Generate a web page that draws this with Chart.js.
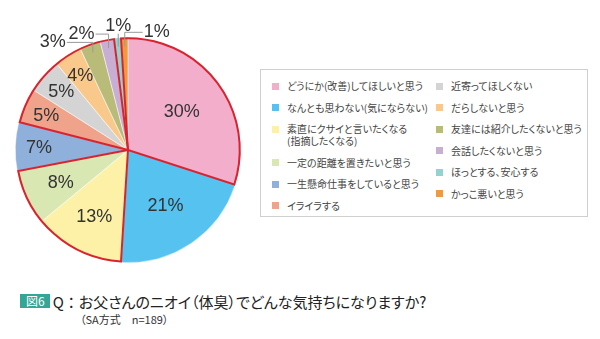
<!DOCTYPE html>
<html lang="ja">
<head>
<meta charset="utf-8">
<script src="https://cdn.jsdelivr.net/npm/chart.js@4"></script>
<style>
  html, body { margin: 0; padding: 0; background: #fff; }
  body { width: 600px; height: 339px; position: relative; overflow: hidden;
         font-family: "Noto Sans CJK JP", "Noto Sans", sans-serif; }
  #pie { position: absolute; left: 0; top: 0; }
  #legend { position: absolute; left: 260px; top: 69px; width: 326px; height: 146px;
            border: 1px solid #cfcfcf; }
  .col { position: absolute; top: 10px; display: flex; flex-direction: column; gap: 9.6px; }
  .item { display: flex; align-items: flex-start; font-size: 10px; line-height: 12px; color: #444;
          font-feature-settings: "palt"; white-space: pre; }
  .sw { width: 7px; height: 7px; margin-top: 2.5px; margin-right: 8px; flex: none; }
  #title { position: absolute; left: 20px; top: 291px; font-size: 15px; color: #222;
           font-feature-settings: "palt"; white-space: nowrap; }
  #title .badge { display: inline-block; background: #35a596; color: #fff; font-size: 12px;
                  line-height: 14px; padding: 0 5px 0 6px; margin-right: 3px; vertical-align: 2px; }
  #title .q { font-feature-settings: normal; }
  #sub { position: absolute; left: 80px; top: 311px; font-size: 11px; color: #333;
         font-feature-settings: "palt"; white-space: pre; }
</style>
</head>
<body>
<canvas id="pie" width="260" height="290"></canvas>
<div id="legend"></div>
<div id="title"><span class="badge">図6</span><span class="q">Q：</span>お父さんのニオイ（体臭）でどんな気持ちになりますか?</div>
<div id="sub">（SA方式　n=189）</div>
<script>
// 回答の選択肢と割合（%）
const categories = [
    "どうにか(改善)してほしいと思う",
    "なんとも思わない(気にならない)",
    "素直にクサイと言いたくなる\n(指摘したくなる)",
    "一定の距離を置きたいと思う",
    "一生懸命仕事をしていると思う",
    "イライラする",
    "近寄ってほしくない",
    "だらしないと思う",
    "友達には紹介したくないと思う",
    "会話したくないと思う",
    "ほっとする、安心する",
    "かっこ悪いと思う"
];
const percents = [30, 21, 13, 8, 7, 5, 5, 4, 3, 2, 1, 1];
const colors = [
    "#f3aecb", "#56c2ef", "#fdf1a8", "#d9e8b3", "#8fb0da", "#eea38a",
    "#d4d4d4", "#f9c98b", "#b9bc79", "#c9aed3", "#8fd4d0", "#f0993f"
];

// 赤枠で囲むグループ（スライスの番号）
const redGroups = [[11, 0], [2, 3], [5, 6, 7, 8, 9]];

// 小さいスライスの外側ラベル（引き出し線の折れ位置）
const outsideLabels = {
    8: { dx: -26, dy: -10, align: "right" },
    9: { dx: -13, dy: -14, align: "right" },
    10: { dx: 0, dy: -13, align: "center" },
    11: { dx: 18, dy: -14, align: "left" }
};

// legend (2 columns, 6 rows each)
const legendEl = document.getElementById("legend");
[0, 6].forEach((start, c) => {
    const col = document.createElement("div");
    col.className = "col";
    col.style.left = c === 0 ? "11px" : "175px";
    for (let i = start; i < start + 6; i++) {
        const item = document.createElement("div");
        item.className = "item";
        const sw = document.createElement("span");
        sw.className = "sw";
        sw.style.background = colors[i];
        const tx = document.createElement("span");
        tx.textContent = categories[i];
        item.appendChild(sw);
        item.appendChild(tx);
        col.appendChild(item);
    }
    legendEl.appendChild(col);
});

// 赤枠と％ラベルを描くプラグイン
const pieDecor = {
    id: "pieDecor",
    afterDatasetsDraw(chart) {
        const ctx = chart.ctx;
        const arcs = chart.getDatasetMeta(0).data;
        const cx = arcs[0].x, cy = arcs[0].y, R = arcs[0].outerRadius;

        ctx.save();
        ctx.strokeStyle = "#d9232e";
        ctx.lineWidth = 2;
        ctx.lineJoin = "miter";
        redGroups.forEach(g => {
            const start = arcs[g[0]].startAngle;
            let end = arcs[g[g.length - 1]].endAngle;
            if (end < start) end += Math.PI * 2;
            ctx.beginPath();
            ctx.moveTo(cx, cy);
            ctx.arc(cx, cy, R - 1, start, end);
            ctx.closePath();
            ctx.stroke();
        });

        ctx.font = "18px 'Liberation Sans', Arial, sans-serif";
        ctx.fillStyle = "#333";
        ctx.textBaseline = "middle";
        arcs.forEach((arc, i) => {
            const v = percents[i];
            const mid = (arc.startAngle + arc.endAngle) / 2;
            const text = v + "%";
            const o = outsideLabels[i];
            if (!o) {
                const f = v >= 20 ? 0.59 : v >= 8 ? 0.66 : 0.79;
                ctx.textAlign = "center";
                ctx.fillText(text, cx + Math.cos(mid) * R * f, cy + Math.sin(mid) * R * f + 1);
                return;
            }
            const px = cx + Math.cos(mid) * R * 0.92;
            const py = cy + Math.sin(mid) * R * 0.92;
            const ey = py + o.dy;
            ctx.strokeStyle = "#9a9a9a";
            ctx.lineWidth = 1;
            ctx.beginPath();
            ctx.moveTo(px, py);
            ctx.lineTo(px, ey);
            ctx.lineTo(px + o.dx, ey);
            ctx.stroke();
            ctx.textAlign = o.align;
            if (o.align === "center") {
                ctx.fillText(text, px, ey - 8);
            } else {
                const tx = o.align === "right" ? px + o.dx - 1 : px + o.dx + 1;
                ctx.fillText(text, tx, ey);
            }
        });
        ctx.restore();
    }
};

new Chart(document.getElementById("pie"), {
    type: "pie",
    data: {
        labels: categories,
        datasets: [{
            data: percents,
            backgroundColor: colors,
            borderColor: "#ffffff",
            borderWidth: 0.5
        }]
    },
    options: {
        responsive: false,
        animation: false,
        layout: { padding: { left: 15, top: 37, right: 19, bottom: 27 } },
        plugins: {
            legend: { display: false },
            tooltip: { enabled: false }
        }
    },
    plugins: [pieDecor]
});
</script>
</body>
</html>
